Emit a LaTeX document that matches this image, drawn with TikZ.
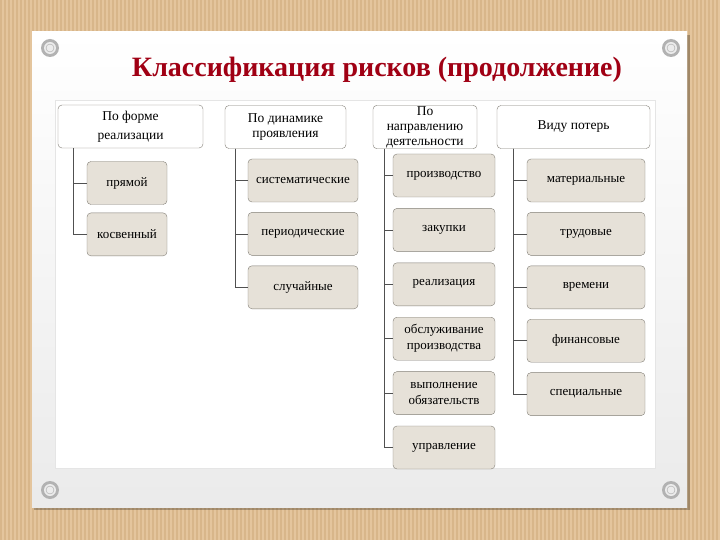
\documentclass[tikz,border=0pt]{standalone}
\usepackage{fontspec}
\setmainfont{Liberation Serif}
\usetikzlibrary{positioning}
\definecolor{woodtan}{RGB}{228,197,157}
\definecolor{woodline}{RGB}{216,182,138}
\definecolor{titlered}{RGB}{160,0,20}
\definecolor{boxline}{RGB}{130,126,118}
\definecolor{itemfill}{RGB}{230,225,216}
\definecolor{trunk}{RGB}{80,80,80}

\begin{document}
\begin{tikzpicture}[x=1pt, y=-1pt,
    node distance=10pt,
    head/.style={draw=boxline, fill=white, rounded corners=4pt, minimum height=43pt, font=\fontsize{13.5}{15}\selectfont, align=center, inner sep=1pt},
    item/.style={draw=boxline, fill=itemfill, rounded corners=4pt, minimum height=43pt, font=\fontsize{13}{16}\selectfont, align=center, inner sep=1pt},
    link/.style={draw=trunk, line width=0.6pt},
    pin/.style={fill=gray!60}
  ]
  \useasboundingbox (0,0) rectangle (720,540);
  % wood background
  \fill[woodtan] (0,0) rectangle (720,540);
  \foreach \x in {0,4,...,716}
    \fill[woodline] (\x,0) rectangle +(1.6,540);
  % paper sheet
  \fill[black, opacity=.25] (34,35) rectangle (690,510);
  \shade[top color=white, bottom color=gray!16] (32,32) rectangle (687,507);
  \fill[white] (55,100) rectangle (655,468);
  \draw[gray!20] (55,100) rectangle (655,468);
  \foreach \p in {(50,48),(671,48),(50,490),(671,490)} {
    \fill[pin] \p circle (9);
    \fill[gray!15] \p circle (6);
    \draw[gray!70] \p circle (4);
  }
  \node[font=\fontsize{28}{32}\selectfont\bfseries, text=titlered] (title) at (377,70) {Классификация рисков (продолжение)};

  % headers
  \node[head, minimum width=145pt] (hform) at (130.5,126.5) {По форме\\[4pt]реализации};
  \node[head, minimum width=121pt] (hdyn) at (285.5,127) {По динамике\\проявления};
  \node[head, minimum width=104pt] (hdir) at (425,127) {По\\направлению\\деятельности};
  \node[head, minimum width=153pt] (hloss) at (573.5,127) {Виду потерь};

  % column 1
  \node[item, minimum width=80pt] (direct) at (127,183) {прямой};
  \node[item, minimum width=80pt, below=8pt of direct] (indirect) {косвенный};

  % column 2
  \node[item, minimum width=110pt] (syst) at (303,180.5) {систематические};
  \node[item, minimum width=110pt, below=of syst] (period) {периодические};
  \node[item, minimum width=110pt, below=of period] (random) {случайные};

  % column 3
  \node[item, minimum width=102pt] (prod) at (444,175.5) {производство};
  \node[item, minimum width=102pt, below=11pt of prod] (purch) {закупки};
  \node[item, minimum width=102pt, below=11pt of purch] (sales) {реализация};
  \node[item, minimum width=102pt, below=11pt of sales] (serv) {обслуживание\\производства};
  \node[item, minimum width=102pt, below=11pt of serv] (oblig) {выполнение\\обязательств};
  \node[item, minimum width=102pt, below=11pt of oblig] (manag) {управление};

  % column 4
  \node[item, minimum width=118pt] (mat) at (586,180.5) {материальные};
  \node[item, minimum width=118pt, below=of mat] (labour) {трудовые};
  \node[item, minimum width=118pt, below=of labour] (time) {времени};
  \node[item, minimum width=118pt, below=of time] (fin) {финансовые};
  \node[item, minimum width=118pt, below=of fin] (spec) {специальные};

  % connectors
  \foreach \c in {direct, indirect}
    \draw[link] ([xshift=15pt]hform.south west) |- (\c.west);
  \foreach \c in {syst, period, random}
    \draw[link] ([xshift=10pt]hdyn.south west) |- (\c.west);
  \foreach \c in {prod, purch, sales, serv, oblig, manag}
    \draw[link] ([xshift=11pt]hdir.south west) |- (\c.west);
  \foreach \c in {mat, labour, time, fin, spec}
    \draw[link] ([xshift=16pt]hloss.south west) |- (\c.west);
\end{tikzpicture}
\end{document}
